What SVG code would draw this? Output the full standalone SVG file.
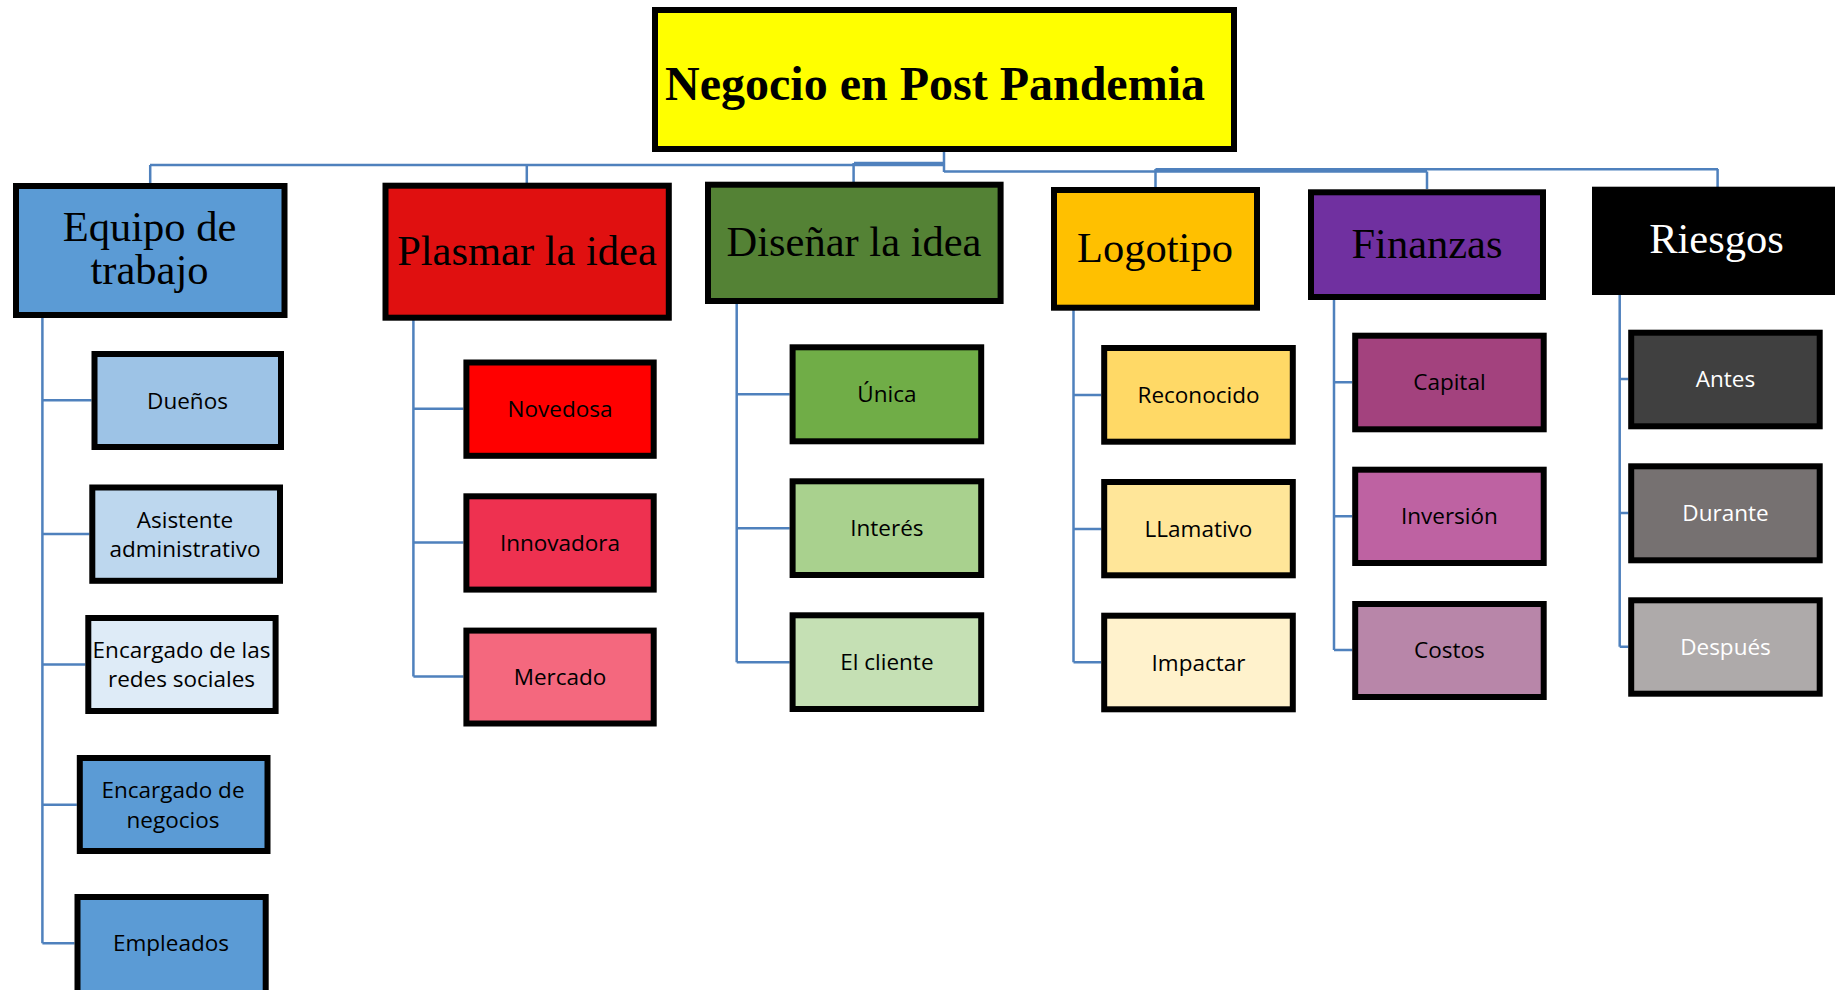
<svg xmlns="http://www.w3.org/2000/svg" width="1835" height="990" viewBox="0 0 1835 990">
<style>
.bx{stroke:#000;stroke-width:6}
.t1{font-family:"Liberation Serif","Times New Roman",serif;font-size:42.5px;text-anchor:middle;fill:#000}
.t0{font-family:"Liberation Serif","Times New Roman",serif;font-size:48px;font-weight:bold;text-anchor:middle;fill:#000}
.t2{font-family:"Open Sans","Noto Sans",sans-serif;font-size:22.5px;text-anchor:middle;fill:#000}
.w{fill:#fff}
.ln{stroke:#4f81bd;stroke-width:2.5;fill:none}
</style>
<rect width="1835" height="990" fill="#fff"/>
<g id="connectors">
<path class="ln" d="M944 152V172M150 165H944M854 163H944M944 171.5H1427M1155.5 169.3H1718"/>
<path class="ln" d="M150.2 165V183M526.8 165V183M853.6 163V182M1155.5 169V187M1427 171.5V189M1717.6 169V187"/>
<path class="ln" d="M42.4 318V943.3M42.4 400.3H91.5M42.4 534H89.3M42.4 664.6H85.3M42.4 804.8H76.8M42.4 943.3H74.5"/>
<path class="ln" d="M413.4 320V676.4M413.4 408.7H463.4M413.4 542.5H463.4M413.4 676.4H463.4"/>
<path class="ln" d="M736.7 304V662.3M736.7 394.3H789.6M736.7 528.3H789.6M736.7 662.3H789.6"/>
<path class="ln" d="M1073.5 310V662.3M1073.5 395H1101.2M1073.5 529H1101.2M1073.5 662.3H1101.2"/>
<path class="ln" d="M1334 300V650M1334 382.3H1352.2M1334 516.3H1352.2M1334 650H1352.2"/>
<path class="ln" d="M1619.7 295V646.7M1619.7 379H1628.2M1619.7 513H1628.2M1619.7 646.7H1628.2"/>
</g>
<g id="root">
<rect class="bx" x="655" y="10" width="579" height="139" fill="#ffff00"/>
<text class="t0" x="935" y="100">Negocio en Post Pandemia</text>
</g>
<g id="equipo">
<rect class="bx" x="16" y="186" width="268.5" height="129" fill="#5b9bd5"/>
<text class="t1" x="149.5" y="241">Equipo de</text>
<text class="t1" x="149.5" y="284">trabajo</text>
</g>
<g id="plasmar">
<rect class="bx" x="385.5" y="185.7" width="283.3" height="132" fill="#e01010"/>
<text class="t1" x="527" y="265">Plasmar la idea</text>
</g>
<g id="disenar">
<rect class="bx" x="708" y="184.7" width="292.6" height="116.3" fill="#548235"/>
<text class="t1" x="854" y="256">Diseñar la idea</text>
</g>
<g id="logotipo">
<rect class="bx" x="1054" y="190" width="203" height="117.7" fill="#ffc000"/>
<text class="t1" x="1155" y="261.5">Logotipo</text>
</g>
<g id="finanzas">
<rect class="bx" x="1311" y="192.3" width="232" height="104.7" fill="#7030a0"/>
<text class="t1" x="1427" y="257.5">Finanzas</text>
</g>
<g id="riesgos">
<rect x="1592" y="186.7" width="250" height="108.3" fill="#000"/>
<text class="t1 w" x="1716.5" y="253">Riesgos</text>
</g>
<g id="duenos">
<rect class="bx" x="94.5" y="354" width="186.5" height="93" fill="#9dc3e6"/>
<text class="t2" x="187.5" y="408.7">Dueños</text>
</g>
<g id="asistente">
<rect class="bx" x="92.3" y="487.5" width="187.7" height="93.3" fill="#bdd7ee"/>
<text class="t2" x="185" y="527.8">Asistente</text>
<text class="t2" x="185" y="557.3">administrativo</text>
</g>
<g id="redes">
<rect class="bx" x="88.3" y="618" width="187.3" height="93" fill="#deebf7"/>
<text class="t2" x="181.5" y="658.3">Encargado de las</text>
<text class="t2" x="181.5" y="687">redes sociales</text>
</g>
<g id="negocios">
<rect class="bx" x="79.8" y="758" width="187.7" height="93" fill="#5b9bd5"/>
<text class="t2" x="173" y="798">Encargado de</text>
<text class="t2" x="173" y="827.5">negocios</text>
</g>
<g id="empleados">
<rect class="bx" x="77.5" y="897" width="188.2" height="100" fill="#5b9bd5"/>
<text class="t2" x="171" y="951">Empleados</text>
</g>
<g id="novedosa">
<rect class="bx" x="466.4" y="362.5" width="187.3" height="93.3" fill="#ff0000"/>
<text class="t2" x="560" y="417">Novedosa</text>
</g>
<g id="innovadora">
<rect class="bx" x="466.4" y="496.3" width="187.3" height="93.3" fill="#ee3150"/>
<text class="t2" x="560" y="551">Innovadora</text>
</g>
<g id="mercado">
<rect class="bx" x="466.4" y="630.6" width="187.3" height="92.9" fill="#f4687e"/>
<text class="t2" x="560" y="684.8">Mercado</text>
</g>
<g id="unica">
<rect class="bx" x="792.6" y="347.3" width="188.6" height="94" fill="#70ad47"/>
<text class="t2" x="886.9" y="401.7">Única</text>
</g>
<g id="interes">
<rect class="bx" x="792.6" y="481.3" width="188.6" height="93.7" fill="#a9d18e"/>
<text class="t2" x="886.9" y="536">Interés</text>
</g>
<g id="cliente">
<rect class="bx" x="792.6" y="615.3" width="188.6" height="93.7" fill="#c5e0b4"/>
<text class="t2" x="886.9" y="670">El cliente</text>
</g>
<g id="reconocido">
<rect class="bx" x="1104.2" y="348" width="188.6" height="93.7" fill="#ffd966"/>
<text class="t2" x="1198.5" y="402.7">Reconocido</text>
</g>
<g id="llamativo">
<rect class="bx" x="1104.2" y="482" width="188.6" height="93.3" fill="#ffe699"/>
<text class="t2" x="1198.5" y="536.7">LLamativo</text>
</g>
<g id="impactar">
<rect class="bx" x="1104.2" y="615.7" width="188.6" height="93.6" fill="#fff2cc"/>
<text class="t2" x="1198.5" y="670.7">Impactar</text>
</g>
<g id="capital">
<rect class="bx" x="1355.2" y="335.7" width="188.5" height="93.6" fill="#a3427e"/>
<text class="t2" x="1449.4" y="390">Capital</text>
</g>
<g id="inversion">
<rect class="bx" x="1355.2" y="469.7" width="188.5" height="93.3" fill="#be62a2"/>
<text class="t2" x="1449.4" y="524.3">Inversión</text>
</g>
<g id="costos">
<rect class="bx" x="1355.2" y="604" width="188.5" height="93" fill="#b886a9"/>
<text class="t2" x="1449.4" y="658.3">Costos</text>
</g>
<g id="antes">
<rect class="bx" x="1631.2" y="332.7" width="188.5" height="93.6" fill="#404040"/>
<text class="t2 w" x="1725.5" y="386.7">Antes</text>
</g>
<g id="durante">
<rect class="bx" x="1631.2" y="466.3" width="188.5" height="94" fill="#767171"/>
<text class="t2 w" x="1725.5" y="520.7">Durante</text>
</g>
<g id="despues">
<rect class="bx" x="1631.2" y="600.3" width="188.5" height="93.4" fill="#aeaaaa"/>
<text class="t2 w" x="1725.5" y="655">Después</text>
</g>
</svg>
